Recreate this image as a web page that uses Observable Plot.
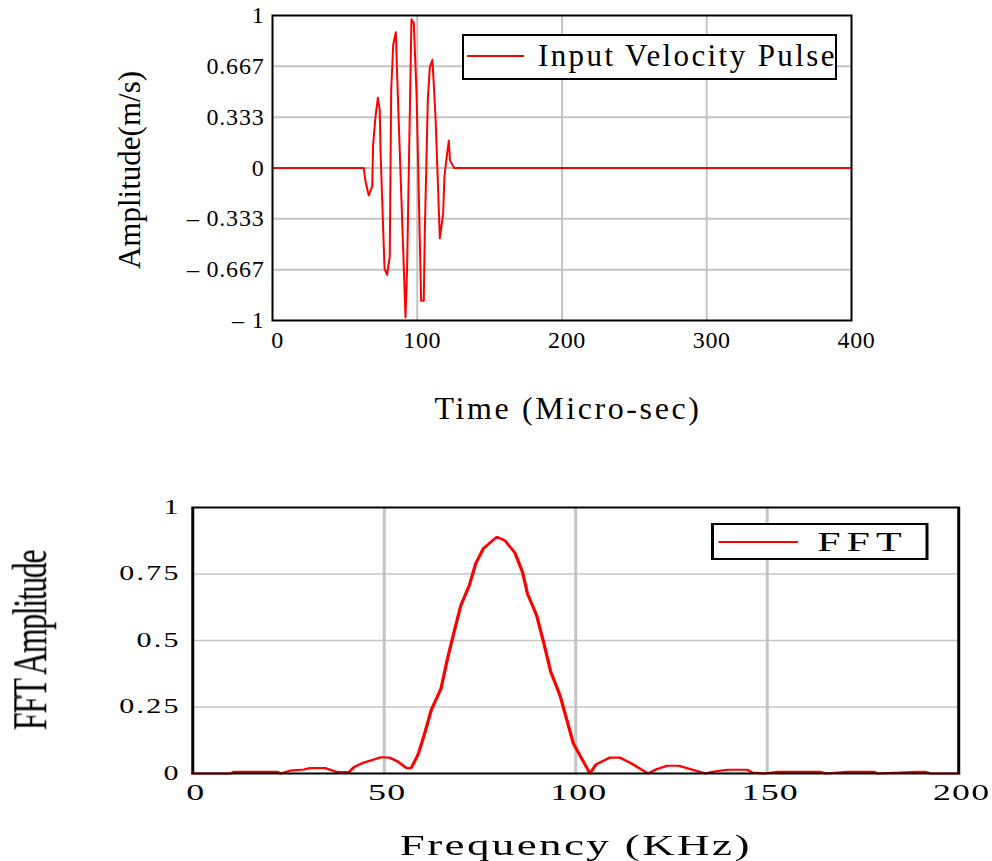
<!DOCTYPE html>
<html>
<head>
<meta charset="utf-8">
<script src="https://cdn.jsdelivr.net/npm/d3@7"></script>
<script src="https://cdn.jsdelivr.net/npm/@observablehq/plot@0.6"></script>
<style>
  html, body { margin: 0; padding: 0; background: white; }
  body { width: 992px; height: 861px; position: relative; overflow: hidden; font-family: "Liberation Serif", "Times New Roman", serif; }
  #top { position: absolute; left: 0; top: 0; width: 992px; height: 440px; }
  #bot { position: absolute; left: 0; top: 440px; width: 661.33px; height: 421px; transform: scaleX(1.5); transform-origin: 0 0; }
  .legend { position: absolute; background: white; border: 2px solid black; box-sizing: border-box; }
  .legend .sw { position: absolute; height: 0; border-top: 2px solid #ff0000; }
  .legend .lbl { position: absolute; white-space: nowrap; color: black; font-family: "Liberation Serif", "Times New Roman", serif; }
</style>
</head>
<body>
<div id="top"></div>
<div id="bot"></div>
<script>
// ---- Data: input velocity pulse ----
const timeUs = [0, 63, 64.3, 66.5, 68.9, 69.5, 71.2, 72.8, 74.1, 74.6, 77.4, 79.2, 81.0, 82.0, 83.4, 85.2, 86.6, 91.9, 93.0, 96.0, 97.6, 99.5, 102.7, 104.5, 105.2, 107.3, 108.7, 110.5, 112.6, 115.6, 117.9, 118.8, 120.7, 121.8, 122.6, 124.4, 125.5, 400];
const velocity = [0, 0, -0.09, -0.18, -0.12, 0.15, 0.34, 0.46, 0.38, 0.12, -0.66, -0.70, -0.58, 0.51, 0.81, 0.89, 0.47, -0.98, -0.65, 0.975, 0.95, 0.49, -0.87, -0.87, -0.43, 0.45, 0.66, 0.71, 0.34, -0.46, -0.30, -0.05, 0.10, 0.18, 0.05, 0.02, 0, 0];

// ---- Data: FFT amplitude ----
const freqKHz = [0, 10, 10.7, 22.1, 23, 25.6, 29.1, 30.4, 34.7, 37.8, 40.8, 42.1, 44.3, 46.9, 49.1, 51.3, 53.4, 55.9, 57, 58.8, 60.4, 62.3, 64.8, 66.5, 68.1, 70, 72.2, 73.9, 75.9, 77.8, 79.4, 81.5, 84.1, 86.1, 87.4, 89.8, 91.6, 93.5, 95.9, 97.7, 99.4, 101.5, 103.7, 105.3, 108.9, 111.5, 114.4, 118.9, 121.3, 123.9, 126.9, 130.5, 133.9, 135.7, 139.6, 144.8, 146.1, 149.2, 152.7, 164, 165.3, 170.9, 177.9, 178.8, 189.2, 191.4, 192.7, 200];
const fftAmp = [0, 0, 0.006, 0.006, 0, 0.011, 0.015, 0.02, 0.02, 0.005, 0.005, 0.024, 0.039, 0.051, 0.061, 0.06, 0.046, 0.02, 0.02, 0.07, 0.143, 0.24, 0.318, 0.431, 0.525, 0.632, 0.707, 0.79, 0.846, 0.87, 0.889, 0.876, 0.83, 0.757, 0.676, 0.594, 0.494, 0.381, 0.293, 0.2, 0.112, 0.058, 0, 0.034, 0.06, 0.06, 0.039, 0, 0.017, 0.029, 0.029, 0.014, 0, 0.006, 0.014, 0.014, 0.003, 0, 0.006, 0.006, 0, 0.006, 0.006, 0, 0.006, 0.006, 0, 0];

// ---- Ticks ----
const topXTicks = [0, 100, 200, 300, 400];
const topYTicks = [-1, -0.667, -0.333, 0, 0.333, 0.667, 1];
const topYTickLabels = ["\u2013 1", "\u2013 0.667", "\u2013 0.333", "0", "0.333", "0.667", "1"];
const botXTicks = [0, 50, 100, 150, 200];
const botYTicks = [0, 0.25, 0.5, 0.75, 1];
const botYTickLabels = ["0", "0.25", "0.5", "0.75", "1"];

const topLabels = { x: "Time (Micro-sec)", y: "Amplitude(m/s)", legend: "Input Velocity Pulse" };
const botLabels = { x: "Frequency (KHz)", y: "FFT Amplitude", legend: "FFT" };

const pulse = timeUs.map((t, i) => ({ t, v: velocity[i] }));
const fft = freqKHz.map((f, i) => ({ f, a: fftAmp[i] }));

const serif = "Liberation Serif, Times New Roman, serif";
const gridStyle = { stroke: "#c4c4c4", strokeOpacity: 1 };

function styleTicks(svg, axis, size, spacing) {
  d3.select(svg).selectAll(`g[aria-label='${axis}-axis tick label']`)
    .attr("font-size", size).attr("font-family", serif).attr("font-variant", "normal")
    .selectAll("text").attr("font-size", size).attr("letter-spacing", spacing + "px");
}
function styleText(svg, content, attrs) {
  const s = d3.select(svg).selectAll("text").filter(function () { return this.textContent === content; });
  for (const k in attrs) s.attr(k, attrs[k]);
}

// ---- Top chart ----
const topPlot = Plot.plot({
  width: 992, height: 440,
  marginLeft: 272, marginRight: 141, marginTop: 15, marginBottom: 120,
  style: { fontFamily: serif, background: "white", color: "black", overflow: "visible" },
  x: { domain: [0, 400], label: null },
  y: { domain: [-1, 1], label: null },
  marks: [
    Plot.gridX(topXTicks.slice(1, -1), { ...gridStyle, strokeWidth: 2 }),
    Plot.gridY(topYTicks.slice(1, -1), { ...gridStyle, strokeWidth: 2 }),
    Plot.line(pulse, { x: "t", y: "v", stroke: "#ff0000", strokeWidth: 2 }),
    Plot.frame({ stroke: "black", strokeWidth: 2 }),
    Plot.axisX(topXTicks, { tickSize: 0, tickPadding: 10, fontSize: 24, dx: 5, label: null }),
    Plot.axisY(topYTicks, { tickSize: 0, tickPadding: 8, fontSize: 24, label: null,
      tickFormat: d => topYTickLabels[topYTicks.indexOf(d)] }),
    Plot.text([topLabels.x], { text: d => d, frameAnchor: "bottom", textAnchor: "middle", dx: 6, dy: 88, fontSize: 32, lineAnchor: "middle" }),
    Plot.text([topLabels.y], { text: d => d, frameAnchor: "left", textAnchor: "middle", dx: -142, dy: 2, rotate: -90, fontSize: 31, lineAnchor: "middle" })
  ]
});
document.getElementById("top").appendChild(topPlot);
styleTicks(topPlot, "x", 24, 0.6);
styleTicks(topPlot, "y", 24, 0.8);
styleText(topPlot, topLabels.x, { "letter-spacing": "2.6px" });

// top legend
(function () {
  const lg = document.createElement("div");
  lg.className = "legend";
  Object.assign(lg.style, { left: "462px", top: "34px", width: "375px", height: "46px" });
  const sw = document.createElement("div");
  sw.className = "sw";
  Object.assign(sw.style, { left: "3px", top: "19px", width: "57px" });
  const lb = document.createElement("div");
  lb.className = "lbl";
  lb.textContent = topLabels.legend;
  Object.assign(lb.style, { left: "74px", top: "2px", fontSize: "31px", letterSpacing: "2.4px", lineHeight: "36px" });
  lg.appendChild(sw); lg.appendChild(lb);
  document.getElementById("top").appendChild(lg);
})();

// ---- Bottom chart (drawn narrow, stretched horizontally 1.5x) ----
const botPlot = Plot.plot({
  width: 661.33, height: 421,
  marginLeft: 128, marginRight: 22.67, marginTop: 67, marginBottom: 88,
  style: { fontFamily: serif, background: "white", color: "black", overflow: "visible" },
  x: { domain: [0, 200], label: null },
  y: { domain: [0, 1], label: null },
  marks: [
    Plot.gridX(botXTicks.slice(1, -1), { ...gridStyle, strokeWidth: 2 }),
    Plot.gridY(botYTicks.slice(1, -1), { ...gridStyle, strokeWidth: 1.5 }),
    Plot.line(fft, { x: "f", y: "a", stroke: "#ff0000", strokeWidth: 2.2 }),
    Plot.frame({ stroke: "black", strokeWidth: 2 }),
    Plot.axisX(botXTicks, { tickSize: 0, tickPadding: 9, fontSize: 24, dx: 2, label: null }),
    Plot.axisY(botYTicks, { tickSize: 0, tickPadding: 8, fontSize: 20, label: null,
      tickFormat: d => botYTickLabels[botYTicks.indexOf(d)] }),
    Plot.text([botLabels.x], { text: d => d, frameAnchor: "bottom", textAnchor: "middle", dy: 72, fontSize: 30, lineAnchor: "middle" }),
    Plot.text([botLabels.y], { text: d => d, frameAnchor: "left", textAnchor: "middle", dx: -108, rotate: -90, fontSize: 32, lineAnchor: "middle" })
  ]
});
document.getElementById("bot").appendChild(botPlot);
styleTicks(botPlot, "x", 24, 0.8);
styleTicks(botPlot, "y", 20, 1.5);
styleText(botPlot, botLabels.x, { "letter-spacing": "1.6px" });
styleText(botPlot, botLabels.y, { "letter-spacing": "-1.4px" });

// bottom legend
(function () {
  const lg = document.createElement("div");
  lg.className = "legend";
  Object.assign(lg.style, { left: "473.8px", top: "83px", width: "145px", height: "37px" });
  const sw = document.createElement("div");
  sw.className = "sw";
  Object.assign(sw.style, { left: "3px", top: "16px", width: "53px" });
  const lb = document.createElement("div");
  lb.className = "lbl";
  lb.textContent = botLabels.legend;
  Object.assign(lb.style, { left: "69px", top: "1px", fontSize: "28px", letterSpacing: "4px", lineHeight: "32px" });
  lg.appendChild(sw); lg.appendChild(lb);
  document.getElementById("bot").appendChild(lg);
})();
</script>
</body>
</html>
